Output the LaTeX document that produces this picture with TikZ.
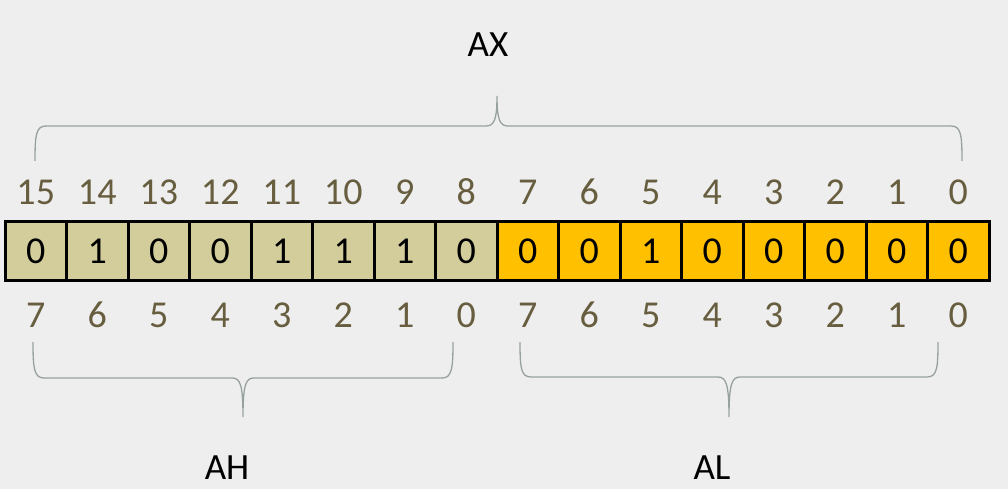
\documentclass[tikz,border=0pt]{standalone}
\usepackage{fontspec}
\setmainfont{Carlito}[Numbers=Lining]
\definecolor{bg}{HTML}{EEEEEE}
\definecolor{tan}{HTML}{D2CD9B}
\definecolor{gold}{HTML}{FFC000}
\definecolor{numc}{HTML}{675D3F}
\definecolor{bracec}{HTML}{98A29D}
\tikzset{
  cell/.style={draw=black, line width=3pt, minimum width=61.5pt, minimum height=59pt, inner sep=0pt, font=\fontsize{38}{38}\selectfont, text=black},
  hicell/.style={cell, fill=tan},
  locell/.style={cell, fill=gold},
  idx/.style={font=\fontsize{38}{38}\selectfont, text=numc, inner sep=0pt},
  reg/.style={font=\fontsize{37}{37}\selectfont, text=black, inner sep=0pt},
  brace/.style={draw=bracec, line width=1.3pt}
}
\begin{document}
\begin{tikzpicture}[x=1pt,y=-1pt]
\useasboundingbox[fill=bg] (0,0) rectangle (1008,489);
% cells
\foreach \b/\v [count=\i from 0] in {15/0,14/1,13/0,12/0,11/1,10/1,9/1,8/0}{
  \node[hicell] (c\b) at ({5+61.5*(\i+0.5)},251) {\v};
}
\foreach \b/\v [count=\i from 8] in {7/0,6/0,5/1,4/0,3/0,2/0,1/0,0/0}{
  \node[locell] (c\b) at ({5+61.5*(\i+0.5)},251) {\v};
}
% top indices
\foreach \b [count=\i from 0] in {15,14,...,0}{
  \node[idx] (t\b) at ({5+61.5*(\i+0.5)},192) {\b};
}
% bottom indices
\foreach \b [count=\i from 0] in {7,6,...,0}{
  \node[idx] (h\b) at ({5+61.5*(\i+0.5)},315) {\b};
}
\foreach \b [count=\i from 8] in {7,6,...,0}{
  \node[idx] (l\b) at ({5+61.5*(\i+0.5)},315) {\b};
}
% labels
\node[reg] (AX) at (488,45) {AX};
\node[reg] (AH) at (227,468) {AH};
\node[reg] (AL) at (712,468) {AL};
% top brace
\draw[brace] (35,161) .. controls (35,135) and (36,126) .. (46,126) -- (486,126)
  .. controls (494,126) and (497,120) .. (497,96)
  .. controls (497,120) and (500,126) .. (508,126) -- (951,126)
  .. controls (961,126) and (962,135) .. (962,161);
% AH brace
\draw[brace] (33,342) .. controls (33,368) and (34,378) .. (44,378) -- (232,378)
  .. controls (240,378) and (243,384) .. (243,417)
  .. controls (243,384) and (246,378) .. (254,378) -- (442,378)
  .. controls (452,378) and (453,368) .. (453,342);
% AL brace
\draw[brace] (520,342) .. controls (520,368) and (521,377) .. (531,377) -- (718,377)
  .. controls (726,377) and (729,384) .. (729,417)
  .. controls (729,384) and (732,377) .. (740,377) -- (927,377)
  .. controls (937,377) and (938,368) .. (938,342);
\end{tikzpicture}
\end{document}
